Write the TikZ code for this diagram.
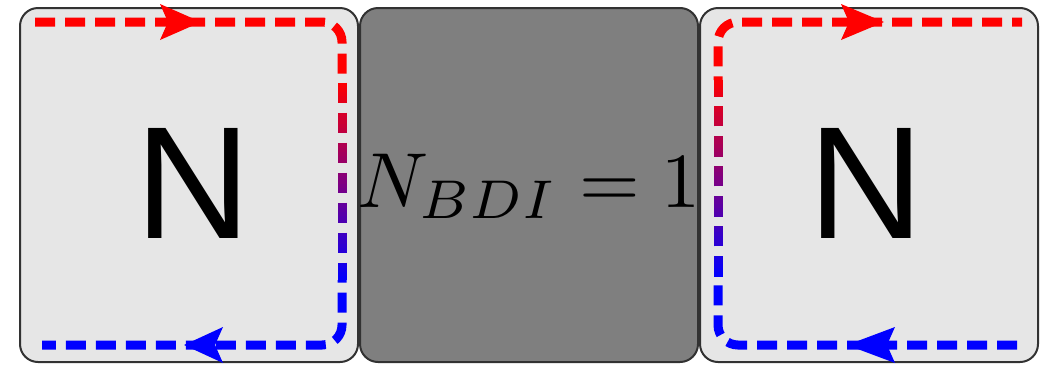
\documentclass[tikz,border=0pt]{standalone}
\usepackage{graphicx}
\usepackage{fontspec}
\newfontfamily\arialf{Liberation Sans}
\definecolor{boxlight}{RGB}{230,230,230}
\definecolor{boxdark}{RGB}{127,127,127}
\definecolor{edgegray}{RGB}{50,50,50}
\begin{document}
\begin{tikzpicture}[x=1pt,y=-1pt,
  panel/.style={draw=edgegray,line width=2pt,rounded corners=18pt},
  flow/.style={line width=9pt,dash pattern=on 20pt off 10pt},
  bigN/.style={font=\arialf\fontsize{160}{160}\selectfont,anchor=base,inner sep=0pt},
  headfill/.style={draw=none}
]
\useasboundingbox (0,0) rectangle (1048,365);
% panels
\draw[panel,fill=boxlight] (20,8) rectangle (358,362);
\draw[panel,fill=boxdark] (360,8) rectangle (698,362);
\draw[panel,fill=boxlight] (700,8) rectangle (1038,362);
% labels
\node[bigN] (nl) at (193,238) {N};
\node[bigN] (nr) at (866,238) {N};
\node[anchor=base,inner sep=0pt] (nb) at (529,207) {\scalebox{7.8}{$N_{BDI}=1$}};
% left loop
\draw[flow,red,rounded corners=20pt] (35,22) -| (342,80);
\foreach \i in {0,...,49}{
  \pgfmathsetmacro\ph{357.4+4*\i}
  \pgfmathtruncatemacro\c{100-2*\i}
  \draw[flow,dash phase=\ph pt,draw=red!\c!blue] (342,{80+4*\i}) -- (342,{84+4*\i});
}
\draw[flow,blue,dash phase=557.4pt,rounded corners=20pt] (342,280) |- (42,345);
% right loop
\draw[flow,blue,rounded corners=20pt] (1017,345) -| (718,280);
\foreach \i in {0,...,49}{
  \pgfmathsetmacro\ph{356.4+4*\i}
  \pgfmathtruncatemacro\c{2*\i}
  \draw[flow,dash phase=\ph pt,draw=red!\c!blue] (718,{280-4*\i}) -- (718,{276-4*\i});
}
\draw[flow,red,dash phase=556.4pt,rounded corners=20pt] (718,80) |- (1022,22);
% arrowheads
\fill[headfill,red] (201,22) -- (160,4) -- (168,22) -- (160,40) -- cycle;
\fill[headfill,blue] (184,345) -- (223,327) -- (215,345) -- (223,363) -- cycle;
\fill[headfill,red] (884,22) -- (841,4) -- (849,22) -- (841,40) -- cycle;
\fill[headfill,blue] (847,345) -- (895,327) -- (887,345) -- (895,363) -- cycle;
\end{tikzpicture}
\end{document}
